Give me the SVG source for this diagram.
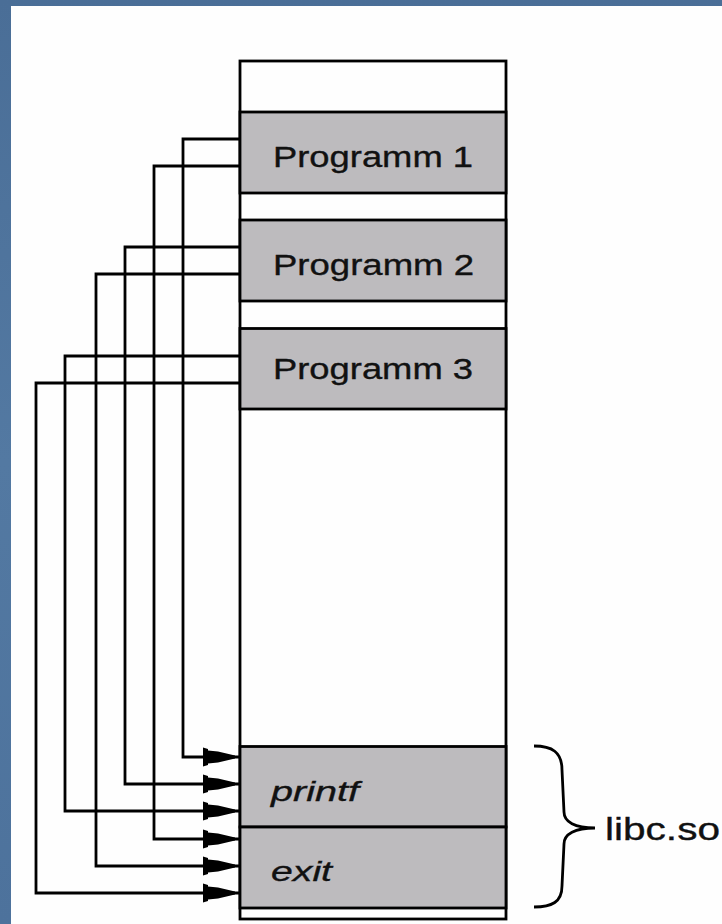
<svg xmlns="http://www.w3.org/2000/svg" width="722" height="924" viewBox="0 0 722 924">
  <style>
    .frame { fill: none; stroke: #000; stroke-width: 2.8; }
    .seg { fill: #bdbbbe; stroke: #000; stroke-width: 2.8; }
    .wire { fill: none; stroke: #000; stroke-width: 2.8; }
    .lbl { font-family: "Liberation Sans", Arial, sans-serif; fill: #111; stroke: #111; stroke-width: 0.35; }
    .fn { font-style: italic; }
  </style>
  <defs>
    <linearGradient id="bg" x1="0" y1="0" x2="0" y2="1">
      <stop offset="0" stop-color="#4a6e97"/>
      <stop offset="0.5" stop-color="#5379a2"/>
      <stop offset="1" stop-color="#4d729c"/>
    </linearGradient>
    <marker id="arrow" markerUnits="userSpaceOnUse" markerWidth="40" markerHeight="20" refX="0" refY="0" orient="auto" overflow="visible">
      <path d="M-37,-9.5 L-32,-8 L-32,-6.5 L-22,-5.5 L-5,-1.5 L-5,1.5 L-22,5.5 L-32,6.5 L-32,8 L-37,9.5 Z" fill="#000"/>
    </marker>
  </defs>

  <!-- slide background and white page -->
  <rect x="0" y="0" width="722" height="924" fill="url(#bg)"/>
  <rect x="11" y="6" width="711" height="918" fill="#fefefe"/>

  <!-- memory column -->
  <g id="memory">
    <rect class="frame" x="240" y="61" width="266" height="858" fill="#fefefe"/>
  </g>
  <g id="prog1">
    <rect class="seg" x="240" y="112" width="266" height="81"/>
    <text class="lbl" x="273" y="166.5" font-size="29" textLength="200" lengthAdjust="spacingAndGlyphs">Programm 1</text>
  </g>
  <g id="prog2">
    <rect class="seg" x="240" y="220" width="266" height="81"/>
    <text class="lbl" x="273" y="275" font-size="29" textLength="201" lengthAdjust="spacingAndGlyphs">Programm 2</text>
  </g>
  <g id="prog3">
    <rect class="seg" x="240" y="328.5" width="266" height="80.5"/>
    <text class="lbl" x="273" y="378.5" font-size="29" textLength="200" lengthAdjust="spacingAndGlyphs">Programm 3</text>
  </g>
  <g id="printf">
    <rect class="seg" x="240" y="746.5" width="266" height="80.5"/>
    <text class="lbl fn" x="271" y="801" font-size="28" textLength="88" lengthAdjust="spacingAndGlyphs">printf</text>
  </g>
  <g id="exit">
    <rect class="seg" x="240" y="827" width="266" height="81"/>
    <text class="lbl fn" x="271" y="881" font-size="28" textLength="61" lengthAdjust="spacingAndGlyphs">exit</text>
  </g>

  <!-- shared library brace -->
  <g id="libc">
    <path class="wire" d="M534,746 C552,746 562,752 562,770 L564,812 C564,822 575,828 595,828 C575,828 564,834 564,844 L562,886 C562,902 552,907 534,907"/>
    <text class="lbl" x="605" y="839.5" font-size="31" textLength="115" lengthAdjust="spacingAndGlyphs">libc.so</text>
  </g>

  <!-- calls from each program into libc -->
  <g id="connectors">
    <path class="wire" marker-end="url(#arrow)" d="M240,139 H183 V757 H240"/>
    <path class="wire" marker-end="url(#arrow)" d="M240,166 H154 V839 H240"/>
    <path class="wire" marker-end="url(#arrow)" d="M240,247 H125 V784 H240"/>
    <path class="wire" marker-end="url(#arrow)" d="M240,274 H96 V866 H240"/>
    <path class="wire" marker-end="url(#arrow)" d="M240,356 H65 V811 H240"/>
    <path class="wire" marker-end="url(#arrow)" d="M240,383 H36 V893 H240"/>
  </g>
</svg>
